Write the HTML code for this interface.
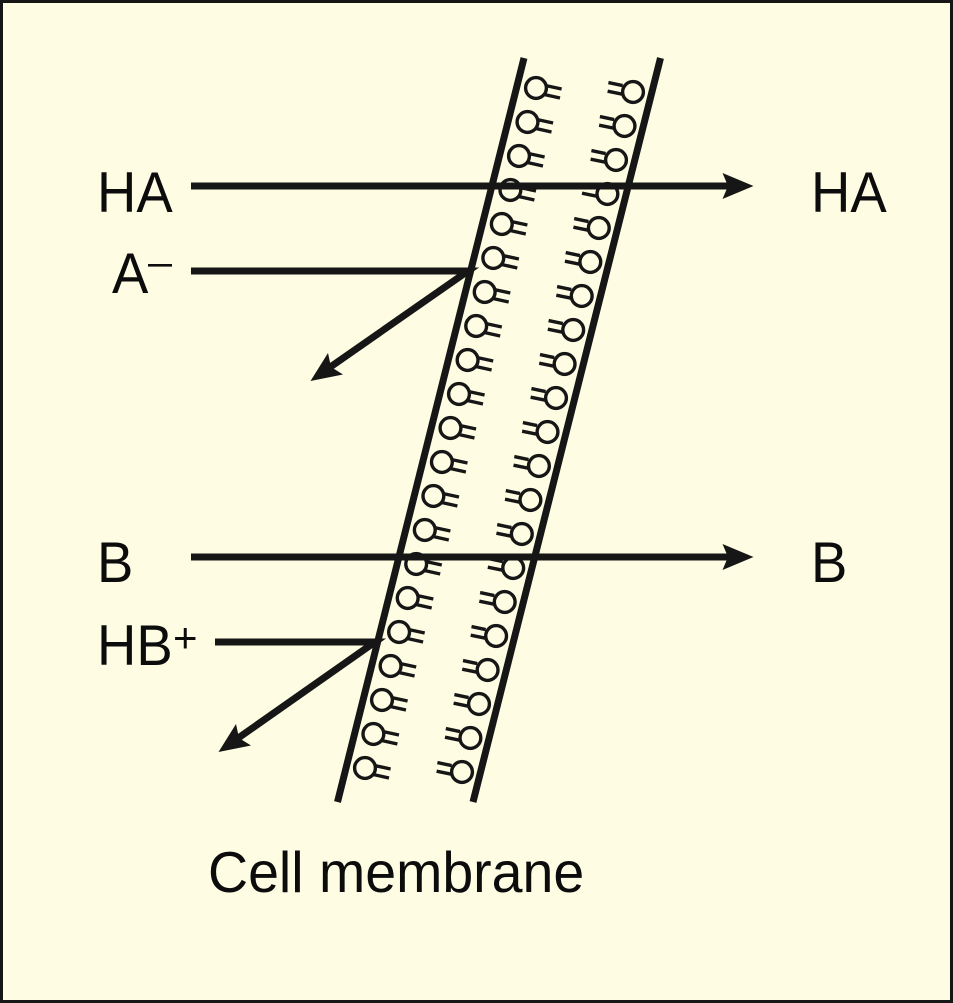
<!DOCTYPE html>
<html><head><meta charset="utf-8"><style>
html,body{margin:0;padding:0;background:#fefde3}
svg{display:block}
text{font-family:"Liberation Sans",sans-serif;fill:#0c0c0c;font-size:54.5px}
</style></head><body>
<svg width="953" height="1003" viewBox="0 0 953 1003" xmlns="http://www.w3.org/2000/svg">
<defs>
<g id="l" fill="none" stroke="#161616" stroke-width="3.4"><circle r="10.4"/><path d="M10-2.400 25.600 1M8.800 6.600 24 10"/></g>
<g id="r" fill="none" stroke="#161616" stroke-width="3.4"><circle r="10.4"/><path d="M-10.400-6.400-24.600-9.400M-9.500 2.400-25.400-.8"/></g>
</defs>
<rect x="1.500" y="1.500" width="950" height="1000" fill="#fefde3" stroke="#161616" stroke-width="3"/>
<g>
<use href="#l" x="536" y="88"/><use href="#l" x="527.500" y="122"/><use href="#l" x="519" y="156"/><use href="#l" x="510.400" y="190"/><use href="#l" x="501.800" y="224"/><use href="#l" x="493.300" y="258"/><use href="#l" x="484.700" y="292"/><use href="#l" x="476.200" y="326"/><use href="#l" x="467.600" y="360"/><use href="#l" x="459" y="394"/><use href="#l" x="450.500" y="428"/><use href="#l" x="441.900" y="462"/><use href="#l" x="433.400" y="496"/><use href="#l" x="424.800" y="530"/><use href="#l" x="416.200" y="564"/><use href="#l" x="407.700" y="598"/><use href="#l" x="399.100" y="632"/><use href="#l" x="390.600" y="666"/><use href="#l" x="382" y="700"/><use href="#l" x="373.400" y="734"/><use href="#l" x="365" y="768"/>
<use href="#r" x="633" y="92"/><use href="#r" x="624.500" y="126"/><use href="#r" x="616" y="160"/><use href="#r" x="607.400" y="194"/><use href="#r" x="598.800" y="228"/><use href="#r" x="590.300" y="262"/><use href="#r" x="581.700" y="296"/><use href="#r" x="573.200" y="330"/><use href="#r" x="564.600" y="364"/><use href="#r" x="556" y="398"/><use href="#r" x="547.500" y="432"/><use href="#r" x="538.900" y="466"/><use href="#r" x="530.400" y="500"/><use href="#r" x="521.800" y="534"/><use href="#r" x="513.200" y="568"/><use href="#r" x="504.700" y="602"/><use href="#r" x="496.100" y="636"/><use href="#r" x="487.600" y="670"/><use href="#r" x="479" y="704"/><use href="#r" x="470.400" y="738"/><use href="#r" x="462" y="772"/>
</g>
<path d="M524 58 337.500 802M660.500 58 473 802" fill="none" stroke="#161616" stroke-width="7"/>
<path d="M191 186H730M191 557H730M191 271H468L326 370M215 642H375L234 741" fill="none" stroke="#161616" stroke-width="7" stroke-linejoin="miter"/>
<path d="M753.500 186 722.500 173 728 186 722.500 199Z M753.500 557 722.500 544 728 557 722.500 570Z" fill="#161616"/>
<path d="M310.500 381 328 353 331 367 343 374.500Z M218.500 752 236 724 239 738 251 745.500Z" fill="#161616"/>
<text transform="translate(97 212) scale(1 1.05)">HA</text>
<text transform="translate(811 212) scale(1 1.05)">HA</text>
<text transform="translate(112 293) scale(1 1.05)">A</text>
<rect x="148" y="264" width="24" height="2.600" fill="#0c0c0c"/>
<text transform="translate(97 582) scale(1 1.05)">B</text>
<text transform="translate(811 582) scale(1 1.05)">B</text>
<text transform="translate(97 665) scale(1 1.05)">HB</text>
<text x="173" y="652" style="font-size:42px">+</text>
<text transform="translate(208 892) scale(1 1.03)" style="font-size:55.500px">Cell membrane</text>
</svg>
</body></html>
